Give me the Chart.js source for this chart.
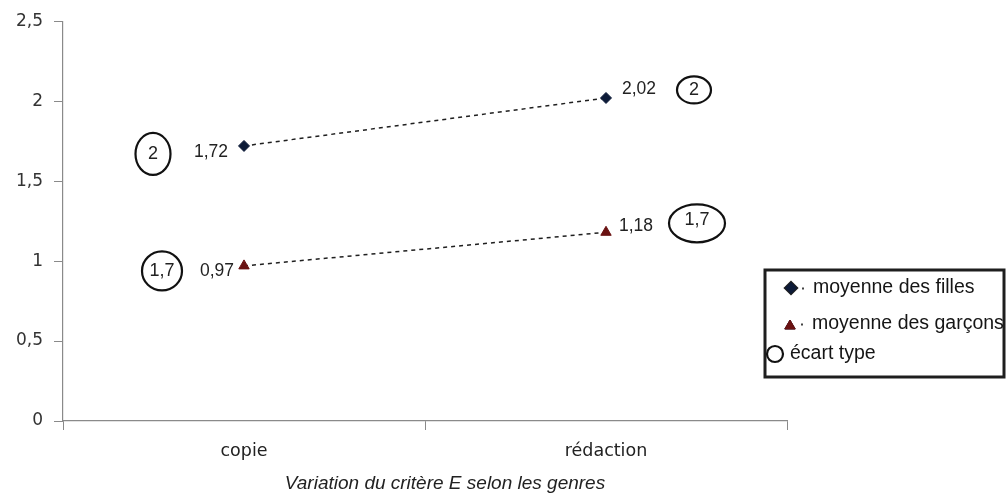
<!DOCTYPE html>
<html>
<head>
<meta charset="utf-8">
<script src="https://cdn.jsdelivr.net/npm/chart.js@4/dist/chart.umd.min.js"></script>
<style>
  html, body { margin: 0; padding: 0; background: #fff; }
  canvas { display: block; }
</style>
</head>
<body>
<canvas id="c" width="1006" height="500"></canvas>
<script>
// Categories and values
const categories = ['copie', 'rédaction'];
const moyenneFilles = [1.72, 2.02];
const moyenneGarcons = [0.97, 1.18];
const ecartFilles = [2, 2];
const ecartGarcons = [1.7, 1.7];
const yTickValues = [0, 0.5, 1, 1.5, 2, 2.5];
const axisTitle = 'Variation du critère E selon les genres';
const legendLabels = ['moyenne des filles', 'moyenne des garçons', 'écart type'];

const fmt = v => Number(v).toLocaleString('fr-FR');
const AXIS = '#8a8a8a';
const TEXT = '#222';
const SANS = "'Liberation Sans', Arial, sans-serif";

// Value labels beside each point
const valueLabels = {
  id: 'valueLabels',
  afterDatasetsDraw(chart) {
    const ctx = chart.ctx;
    chart.data.datasets.forEach((ds, i) => {
      const meta = chart.getDatasetMeta(i);
      meta.data.forEach((pt, j) => {
        const o = ds.labelOffsets[j];
        ctx.save();
        ctx.font = '17.5px ' + SANS;
        ctx.fillStyle = TEXT;
        ctx.textAlign = o.align;
        ctx.textBaseline = 'middle';
        ctx.fillText(fmt(ds.data[j]), pt.x + o.dx, pt.y + o.dy);
        ctx.restore();
      });
    });
  }
};

// Standard deviation shown as a circled value next to each point
const ecartBubbles = {
  id: 'ecartBubbles',
  afterDatasetsDraw(chart) {
    const ctx = chart.ctx;
    chart.data.datasets.forEach((ds, i) => {
      const meta = chart.getDatasetMeta(i);
      meta.data.forEach((pt, j) => {
        const b = ds.ecartBubble[j];
        const cx = pt.x + b.dx, cy = pt.y + b.dy;
        ctx.save();
        ctx.beginPath();
        ctx.ellipse(cx, cy, b.rx, b.ry, 0, 0, Math.PI * 2);
        ctx.lineWidth = 2.2;
        ctx.strokeStyle = '#111';
        ctx.stroke();
        ctx.font = '18px ' + SANS;
        ctx.fillStyle = TEXT;
        ctx.textAlign = 'center';
        ctx.textBaseline = 'middle';
        ctx.fillText(fmt(ds.ecart[j]), cx, cy + (b.ty || 0));
        ctx.restore();
      });
    });
  }
};

// Axis caption under the category labels
const bottomCaption = {
  id: 'bottomCaption',
  afterDraw(chart) {
    const ctx = chart.ctx;
    const a = chart.chartArea;
    ctx.save();
    ctx.font = 'italic 19px ' + SANS;
    ctx.fillStyle = TEXT;
    ctx.textAlign = 'center';
    ctx.textBaseline = 'middle';
    ctx.fillText(axisTitle, (a.left + a.right) / 2 + 20, 484);
    ctx.restore();
  }
};

// Framed legend at the right
const boxedLegend = {
  id: 'boxedLegend',
  afterDraw(chart) {
    const ctx = chart.ctx;
    const H = Chart.helpers;
    const left = 765, top = 270, w = 239, h = 107;
    ctx.save();
    ctx.lineWidth = 3;
    ctx.strokeStyle = '#1e1e1e';
    ctx.strokeRect(left, top, w, h);
    ctx.font = '19.5px ' + SANS;
    ctx.fillStyle = '#151515';
    ctx.textAlign = 'left';
    ctx.textBaseline = 'middle';

    const rows = [
      { y: 288, mx: 791, tx: 813 },
      { y: 324, mx: 790, tx: 812 },
    ];
    chart.data.datasets.forEach((ds, i) => {
      const r = rows[i];
      H.drawPoint(ctx, {
        pointStyle: ds.pointStyle,
        radius: ds.pointRadius,
        rotation: 0,
        borderWidth: 1
      }, r.mx, r.y + (i === 1 ? 2 : 0));
      ctx.fillStyle = ds.pointBackgroundColor;
      ctx.strokeStyle = ds.pointBorderColor;
      ctx.lineWidth = 1;
      ctx.fill();
      ctx.stroke();
      // short line sample
      ctx.fillStyle = '#444';
      ctx.fillRect(r.mx + 11, r.y - 0.5, 2, 2);
      ctx.fillStyle = '#151515';
      ctx.fillText(legendLabels[i], r.tx, r.y);
    });
    ctx.beginPath();
    ctx.arc(775, 354, 8, 0, Math.PI * 2);
    ctx.lineWidth = 2.2;
    ctx.strokeStyle = '#111';
    ctx.stroke();
    ctx.fillText(legendLabels[2], 790, 354);
    ctx.restore();
  }
};

Chart.defaults.font.family = "'DejaVu Sans', Verdana, sans-serif";

new Chart(document.getElementById('c'), {
  type: 'line',
  data: {
    labels: categories,
    datasets: [
      {
        label: legendLabels[0],
        data: moyenneFilles,
        ecart: ecartFilles,
        borderColor: '#1f1f1f',
        borderWidth: 1.5,
        borderDash: [4, 4],
        pointStyle: 'rectRot',
        pointRadius: 5.5,
        pointBackgroundColor: '#0d1b38',
        pointBorderColor: '#0d1b38',
        pointBorderWidth: 1,
        labelOffsets: [
          { dx: -16, dy: 6, align: 'right' },
          { dx: 16, dy: -9, align: 'left' }
        ],
        ecartBubble: [
          { dx: -91, dy: 8, rx: 17.5, ry: 21 },
          { dx: 88, dy: -8, rx: 17, ry: 13.5 }
        ]
      },
      {
        label: legendLabels[1],
        data: moyenneGarcons,
        ecart: ecartGarcons,
        borderColor: '#1f1f1f',
        borderWidth: 1.5,
        borderDash: [4, 4],
        pointStyle: 'triangle',
        pointRadius: 6,
        pointBackgroundColor: '#6a1212',
        pointBorderColor: '#6a1212',
        pointBorderWidth: 1,
        labelOffsets: [
          { dx: -10, dy: 5, align: 'right' },
          { dx: 13, dy: -6, align: 'left' }
        ],
        ecartBubble: [
          { dx: -82, dy: 5, rx: 20, ry: 19.5 },
          { dx: 91, dy: -9, rx: 28, ry: 19, ty: -3 }
        ]
      }
    ]
  },
  options: {
    responsive: false,
    devicePixelRatio: 1,
    animation: false,
    locale: 'fr-FR',
    layout: { padding: { top: 18, right: 219, bottom: 0, left: 0 } },
    plugins: {
      legend: { display: false },
      tooltip: { enabled: false }
    },
    scales: {
      x: {
        offset: true,
        grid: { offset: true, drawOnChartArea: false, tickLength: 9, tickColor: AXIS },
        border: { color: AXIS, width: 1.2 },
        ticks: { padding: 11, color: '#222', font: { size: 17.5 } },
        afterFit: s => { s.height = 79; }
      },
      y: {
        min: 0,
        max: 2.5,
        afterBuildTicks: s => { s.ticks = yTickValues.map(v => ({ value: v })); },
        grid: { drawOnChartArea: false, tickLength: 9, tickColor: AXIS },
        border: { color: AXIS, width: 1.2 },
        ticks: { padding: 11, color: '#333', font: { size: 17 }, callback: v => fmt(v) },
        afterFit: s => { s.width = 63; }
      }
    }
  },
  plugins: [valueLabels, ecartBubbles, bottomCaption, boxedLegend]
});
</script>
</body>
</html>
